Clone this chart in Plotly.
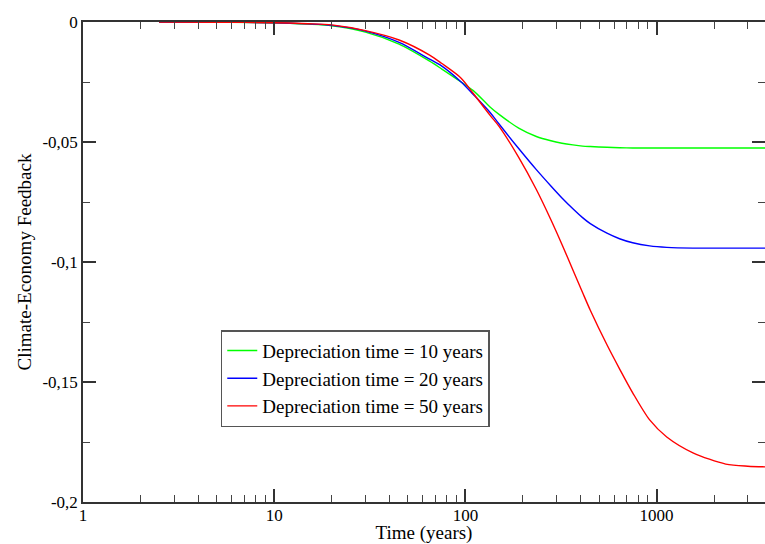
import plotly.graph_objects as go

# Time (years)
t = [2.5, 5, 10, 15, 20, 30, 45, 65, 75, 95, 110, 135, 150, 190, 235, 280,
     320, 365, 410, 450, 550, 640, 750, 920, 1130, 1550, 2300, 3000, 4000]

dep10 = [0, -0.0001, -0.0003, -0.0009, -0.0016, -0.0042, -0.0092, -0.0163,
         -0.0195, -0.025, -0.0286, -0.0355, -0.0385, -0.0442, -0.0477, -0.0495,
         -0.0505, -0.0512, -0.0517, -0.0519, -0.0522, -0.0524, -0.0525,
         -0.0525, -0.0525, -0.0525, -0.0525, -0.0525, -0.0525]
dep20 = [0, -0.0001, -0.0003, -0.0008, -0.0014, -0.0038, -0.0085, -0.0155,
         -0.0183, -0.025, -0.0302, -0.0378, -0.0425, -0.0527, -0.0615, -0.0683,
         -0.0733, -0.0778, -0.0815, -0.0840, -0.0880, -0.0903, -0.0920,
         -0.0933, -0.0939, -0.0942, -0.0942, -0.0942, -0.0942]
dep50 = [0, -0.0001, -0.0003, -0.0007, -0.0012, -0.0036, -0.0075, -0.0138,
         -0.0172, -0.0234, -0.0298, -0.039, -0.0435, -0.0564, -0.0698, -0.0824,
         -0.0927, -0.1033, -0.1127, -0.1201, -0.1345, -0.1445, -0.1545,
         -0.1658, -0.1729, -0.1795, -0.1842, -0.1851, -0.1854]

names = ["Depreciation time = 10 years", "Depreciation time = 20 years",
         "Depreciation time = 50 years"]
colors = ["#00ff00", "#0000ff", "#ff0000"]

ytick_vals = [0, -0.05, -0.1, -0.15, -0.2]
ytick_text = ["0", "-0,05", "-0,1", "-0,15", "-0,2"]
xtick_vals = [1, 10, 100, 1000]
xtick_text = ["1", "10", "100", "1000"]

fig = go.Figure()
for ys, nm, c in zip([dep10, dep20, dep50], names, colors):
    fig.add_trace(go.Scatter(x=t, y=ys, name=nm, mode="lines",
                             line=dict(color=c, width=1.4, shape="spline",
                                       smoothing=0.8)))

font = "Liberation Serif, Times New Roman, serif"
fig.update_layout(
    width=765, height=544,
    margin=dict(l=83, r=0, t=22, b=42),
    paper_bgcolor="white", plot_bgcolor="white",
    font=dict(family=font, size=17, color="black"),
    legend=dict(x=0.202, y=0.358, xanchor="left", yanchor="top",
                bordercolor="#555555", borderwidth=1.5, bgcolor="white",
                font=dict(size=19), tracegroupgap=0, itemwidth=30),
    showlegend=True,
)
fig.update_xaxes(
    type="log", range=[0, 3.567], automargin=False,
    tickvals=xtick_vals, ticktext=xtick_text, ticklabelstandoff=-3,
    ticks="inside", ticklen=13, tickwidth=1.5, tickcolor="#333333",
    minor=dict(ticks="inside", ticklen=7, tickwidth=1.3, tickcolor="#444444",
               dtick="D1", showgrid=False),
    showline=True, linecolor="#333333", linewidth=1.6, mirror="ticks",
    showgrid=False, zeroline=False,
    title=dict(text="Time (years)", standoff=8, font=dict(size=19)),
)
fig.update_yaxes(
    range=[-0.2, 0], automargin=False,
    tickvals=ytick_vals, ticktext=ytick_text,
    ticks="inside", ticklen=13, tickwidth=1.5, tickcolor="#333333",
    minor=dict(ticks="inside", ticklen=7, tickwidth=1.3, tickcolor="#444444",
               dtick=0.025, showgrid=False),
    showline=True, linecolor="#333333", linewidth=1.6, mirror="ticks",
    showgrid=False, zeroline=False,
    title=dict(text="Climate-Economy Feedback", standoff=6, font=dict(size=19)),
)

fig.write_html(
    "out.html",
    config={"displayModeBar": False},
    post_script="document.body.style.margin='0';"
                "document.body.style.overflow='hidden';",
)
